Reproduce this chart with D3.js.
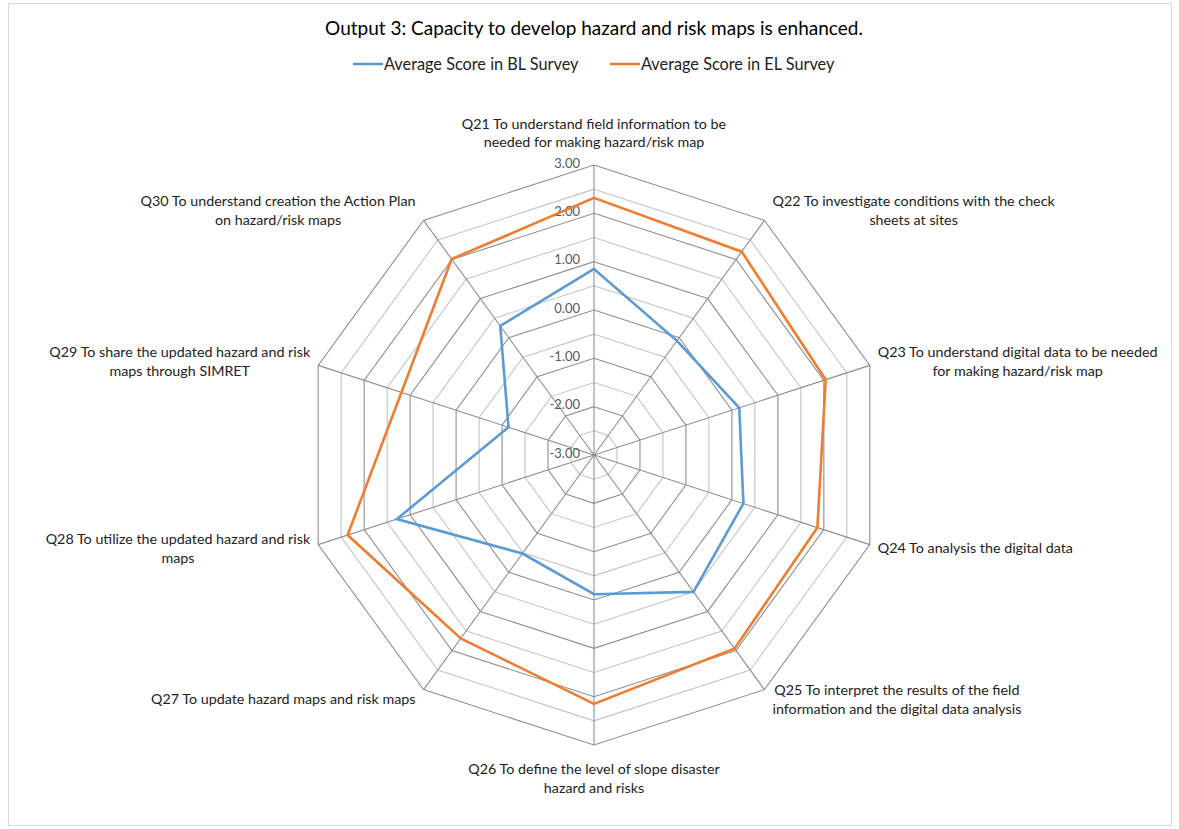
<!DOCTYPE html>
<html>
<head>
<meta charset="utf-8">
<script src="https://cdn.jsdelivr.net/npm/d3@7"></script>
<style>
  body { margin: 0; background: #fff; }
  svg { display: block; font-family: Lato, "Open Sans", sans-serif; }
</style>
</head>
<body>
<div id="chart"></div>
<script>
// questions, one entry per spoke (clockwise from top); each label is pre-wrapped
const questions = ["Q21", "Q22", "Q23", "Q24", "Q25", "Q26", "Q27", "Q28", "Q29", "Q30"];
const labelLines = [
  ["Q21 To understand field information to be", "needed for making hazard/risk map"],
  ["Q22 To investigate conditions with the check", "sheets at sites"],
  ["Q23 To understand digital data to be needed", "for making hazard/risk map"],
  ["Q24 To analysis the digital data"],
  ["Q25 To interpret the results of the field", "information and the digital data analysis"],
  ["Q26 To define the level of slope disaster", "hazard and risks"],
  ["Q27 To update hazard maps and risk maps"],
  ["Q28 To utilize the updated hazard and risk", "maps"],
  ["Q29 To share the updated hazard and risk", "maps through SIMRET"],
  ["Q30 To understand creation the Action Plan", "on hazard/risk maps"]
];
const blScores = [0.85, -0.08, 0.16, 0.25, 0.50, -0.12, -0.48, 1.29, -1.14, 0.30];
const elScores = [2.32, 2.20, 2.04, 1.86, 1.95, 2.15, 1.69, 2.36, 1.19, 2.01];
const seriesNames = ["Average Score in BL Survey", "Average Score in EL Survey"];
const seriesColors = ["#5B9BD5", "#ED7D31"];
const tickValues = [-3, -2, -1, 0, 1, 2, 3];
const ringValues = d3.range(-3, 3.01, 0.5);

const width = 1179, height = 829;
const cx = 594, cy = 455, radius = 290;

const svg = d3.select("#chart").append("svg")
  .attr("width", width)
  .attr("height", height);

// outer frame
svg.append("rect")
  .attr("x", 8.5).attr("y", 3.5)
  .attr("width", 1163).attr("height", 822)
  .attr("fill", "none")
  .attr("stroke", "#d9d9d9");

// title
svg.append("text")
  .attr("x", cx)
  .attr("y", 35)
  .attr("text-anchor", "middle")
  .style("font-size", "19px")
  .style("fill", "#000")
  .text("Output 3: Capacity to develop hazard and risk maps is enhanced.");

// legend
const legend = svg.append("g");
const legendX = [353, 610];
seriesNames.forEach((name, i) => {
  legend.append("line")
    .attr("x1", legendX[i]).attr("x2", legendX[i] + 30)
    .attr("y1", 64).attr("y2", 64)
    .attr("stroke", seriesColors[i])
    .attr("stroke-width", 2.5);
  legend.append("text")
    .attr("x", legendX[i] + 31)
    .attr("y", 69.5)
    .style("font-size", "16.3px")
    .style("fill", "#222")
    .text(name);
});

const r = d3.scaleLinear().domain([-3, 3]).range([0, radius]);
const angle = d3.scaleLinear().domain([0, questions.length]).range([0, 2 * Math.PI]);

const g = svg.append("g").attr("transform", `translate(${cx},${cy})`);

const pt = (i, v) => {
  const a = angle(i);
  return [r(v) * Math.sin(a), -r(v) * Math.cos(a)];
};

// rings: integer rings darker, half rings lighter
const ring = v => d3.line()(d3.range(questions.length).map(i => pt(i, v))) + "Z";
g.selectAll("path.ring")
  .data(ringValues.filter(v => v > -3))
  .enter().append("path")
  .attr("class", "ring")
  .attr("d", ring)
  .attr("fill", "none")
  .attr("stroke", v => Number.isInteger(v) ? "#8f8f8f" : "#c4c4c4")
  .attr("stroke-width", 1.1);

// spokes
g.selectAll("line.spoke")
  .data(questions)
  .enter().append("line")
  .attr("class", "spoke")
  .attr("x1", 0).attr("y1", 0)
  .attr("x2", (d, i) => pt(i, 3)[0])
  .attr("y2", (d, i) => pt(i, 3)[1])
  .attr("stroke", "#8f8f8f")
  .attr("stroke-width", 1.1);

// tick labels along the first spoke
g.selectAll("text.tick")
  .data(tickValues)
  .enter().append("text")
  .attr("class", "tick")
  .attr("x", -14)
  .attr("y", d => -r(d) + 2.5)
  .attr("text-anchor", "end")
  .style("font-size", "13px")
  .style("fill", "#595959")
  .text(d => d.toFixed(2));

// series lines
[blScores, elScores].forEach((vals, s) => {
  g.append("path")
    .attr("d", d3.line()(vals.map((v, i) => pt(i, v))) + "Z")
    .attr("fill", "none")
    .attr("stroke", seriesColors[s])
    .attr("stroke-width", 2.6)
    .attr("stroke-linejoin", "miter");
});

// category labels, centred blocks placed outside each vertex
const lineH = 18.5;
labelLines.forEach((lines, i) => {
  const a = angle(i);
  const [vx, vy] = pt(i, 3);
  const sx = Math.sin(a), cyA = Math.cos(a);
  const t = g.append("text")
    .attr("text-anchor", "middle")
    .style("font-size", "14.3px")
    .style("fill", "#222");
  lines.forEach((ln, k) => {
    t.append("tspan").attr("x", 0).attr("dy", k === 0 ? 0 : lineH).text(ln);
  });
  const w = d3.max(t.selectAll("tspan").nodes(), n => n.getComputedTextLength());
  const n = lines.length;
  let x, y;
  if (Math.abs(sx) < 0.01) {
    x = vx;
    if (cyA > 0) y = vy - 18 - (n - 1) * lineH;  // top label sits above
    else y = vy + 29;                              // bottom label sits below
  } else {
    x = vx + Math.sign(sx) * (8 + w / 2);
    y = vy - cyA * 12 - (n - 1) * lineH / 2 + 5;
  }
  t.attr("transform", `translate(${x},${y})`);
  t.selectAll("tspan").attr("x", 0);
});
</script>
</body>
</html>
